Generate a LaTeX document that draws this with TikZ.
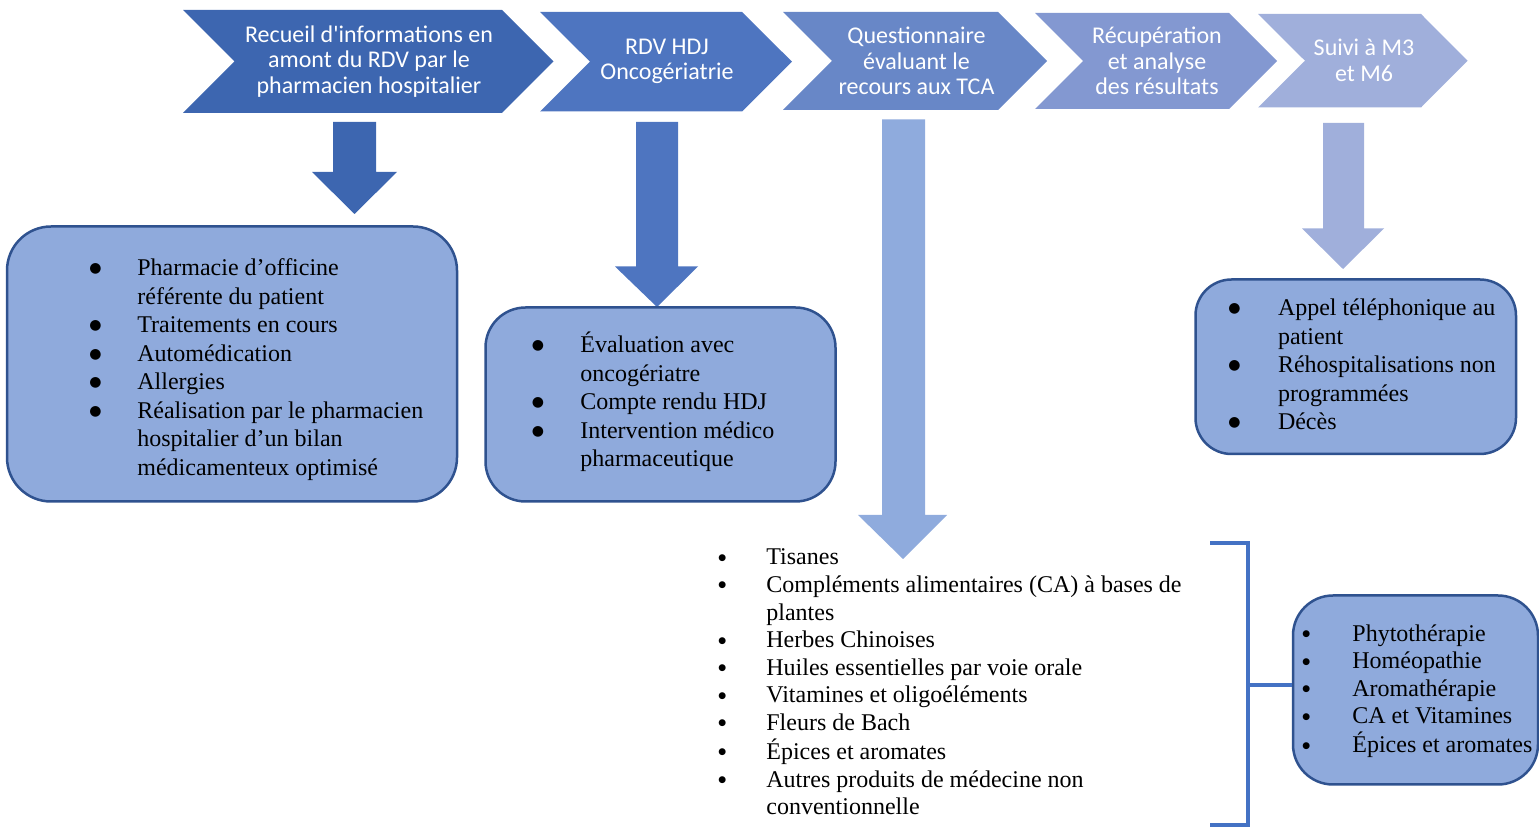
\documentclass[tikz,border=0pt]{standalone}
\usepackage{fontspec}
\usepackage{graphicx}
\setmainfont{Liberation Serif}
\newfontfamily\calfont{Carlito}
\newfontfamily\dvs{DejaVu Sans}
\definecolor{cA}{HTML}{3D66B0}
\definecolor{cB}{HTML}{4E75C0}
\definecolor{cC}{HTML}{6887C7}
\definecolor{cD}{HTML}{8398D1}
\definecolor{cE}{HTML}{A0AFDB}
\definecolor{arrowC}{HTML}{8FABDD}
\definecolor{boxfill}{HTML}{8FAADC}
\definecolor{boxline}{HTML}{2F528F}
\definecolor{brk}{HTML}{4472C4}
\newcommand{\bigb}{\makebox[0pt]{\smash{\raisebox{1.6pt}{\fontsize{7}{7}\dvs ●}}}}
\newcommand{\smb}{\makebox[0pt]{\smash{\raisebox{2.3pt}{\fontsize{4.5}{4.5}\dvs ●}}}}
\begin{document}
\begin{tikzpicture}[x=0.5pt,y=-0.5pt,
  chevtext/.style={text=white,font=\calfont\fontsize{12}{12.8}\selectfont,align=center,inner sep=0pt},
  roundbox/.style={draw=boxline,line width=1.25pt,fill=boxfill,inner sep=0pt},
  listtext/.style={font=\fontsize{12}{14.25}\selectfont,inner sep=0pt,anchor=base west},
  listtextb/.style={font=\fontsize{12}{13.8}\selectfont,inner sep=0pt,anchor=base west},
  bracketline/.style={draw=brk,line width=2pt}]
\path[use as bounding box] (0,0) rectangle (1539,828);

% chevrons
\fill[cA] (183,10) -- (502,10) -- (553.5,61.5) -- (502,113) -- (183,113) -- (234.5,61.5) -- cycle;
\fill[cB] (540,12) -- (742,12) -- (792,61.7) -- (742,111.5) -- (540,111.5) -- (590,61.7) -- cycle;
\fill[cC] (783,12) -- (998,12) -- (1047,61) -- (998,110) -- (783,110) -- (832,61) -- cycle;
\fill[cD] (1035,13) -- (1229,13) -- (1277,61) -- (1229,109) -- (1035,109) -- (1083,61) -- cycle;
\fill[cE] (1258,14) -- (1421,14) -- (1467.5,60.75) -- (1421,107.5) -- (1258,107.5) -- (1305,60.75) -- cycle;

\node[chevtext] (t1) at (369,61.5) {Recueil d'informations en\\amont du RDV par le\\pharmacien hospitalier};
\node[chevtext] (t2) at (667,61.5) {RDV HDJ\\Oncogériatrie};
\node[chevtext] (t3) at (916.5,61) {Questionnaire\\évaluant le\\recours aux TCA};
\node[chevtext] (t4) at (1157,61) {Récupération\\et analyse\\des résultats};
\node[chevtext] (t5) at (1364,60.5) {Suivi à M3\\et M6};

% block arrows
\fill[cA] (333,122) -- (376,122) -- (376,172) -- (397,172) -- (354.5,214) -- (312,172) -- (333,172) -- cycle;
\fill[cB] (636,122) -- (678,122) -- (678,266.5) -- (698,266.5) -- (657,307) -- (615,266.5) -- (636,266.5) -- cycle;
\fill[arrowC] (882,119.5) -- (925,119.5) -- (925,515) -- (947,515) -- (903,559) -- (858,515) -- (882,515) -- cycle;
\fill[cE] (1323,123) -- (1364,123) -- (1364,228.5) -- (1384,228.5) -- (1343,269) -- (1302,228.5) -- (1323,228.5) -- cycle;

% boxes
\node[roundbox,minimum width=225pt,minimum height=137.5pt,rounded corners=22pt] (b1) at (232,364) {};
\node[roundbox,minimum width=175pt,minimum height=97pt,rounded corners=20pt] (b2) at (660.5,404.5) {};
\node[roundbox,minimum width=160.25pt,minimum height=87.25pt,rounded corners=18pt] (b5) at (1355.75,366.75) {};
\node[roundbox,minimum width=122.5pt,minimum height=94.5pt,rounded corners=20pt] (b6) at (1415.5,690) {};

% box texts
\node[listtext] (l1) at (95,276) {\begin{tabular}[t]{@{}p{21pt}@{}l@{}}
\bigb & Pharmacie d’officine\\
 & référente du patient\\
\bigb & Traitements en cours\\
\bigb & Automédication\\
\bigb & Allergies\\
\bigb & Réalisation par le pharmacien\\
 & hospitalier d’un bilan\\
 & médicamenteux optimisé
\end{tabular}};

\node[listtext] (l2) at (537.5,353) {\begin{tabular}[t]{@{}p{21.25pt}@{}l@{}}
\bigb & Évaluation avec\\
 & oncogériatre\\
\bigb & Compte rendu HDJ\\
\bigb & Intervention médico\\
 & pharmaceutique
\end{tabular}};

\node[listtext] (l5) at (1234,316) {\begin{tabular}[t]{@{}p{21.8pt}@{}l@{}}
\bigb & Appel téléphonique au\\
 & patient\\
\bigb & Réhospitalisations non\\
 & programmées\\
\bigb & Décès
\end{tabular}};

\node[listtextb] (l3) at (722,565) {\begin{tabular}[t]{@{}p{22pt}@{}l@{}}
\smb & Tisanes\\
\smb & Compléments alimentaires (CA) à bases de\\
 & plantes\\
\smb & Herbes Chinoises\\
\smb & Huiles essentielles par voie orale\\
\smb & Vitamines et oligoéléments\\
\smb & Fleurs de Bach\\
\smb & Épices et aromates\\
\smb & Autres produits de médecine non\\
 & conventionnelle
\end{tabular}};

\node[listtextb,font=\fontsize{12}{13.75}\selectfont] (l6) at (1306,641.5) {\begin{tabular}[t]{@{}p{23pt}@{}l@{}}
\smb & Phytothérapie\\
\smb & Homéopathie\\
\smb & Aromathérapie\\
\smb & CA et Vitamines\\
\smb & Épices et aromates
\end{tabular}};

% bracket
\coordinate (bt) at (1210,543);
\coordinate (bb) at (1210,825);
\coordinate (bm) at (1248,685);
\draw[bracketline] (bt) -- (1248,543) -- (1248,825) -- (bb);
\draw[bracketline] (bm) -- (bm -| b6.west);
\end{tikzpicture}
\end{document}
